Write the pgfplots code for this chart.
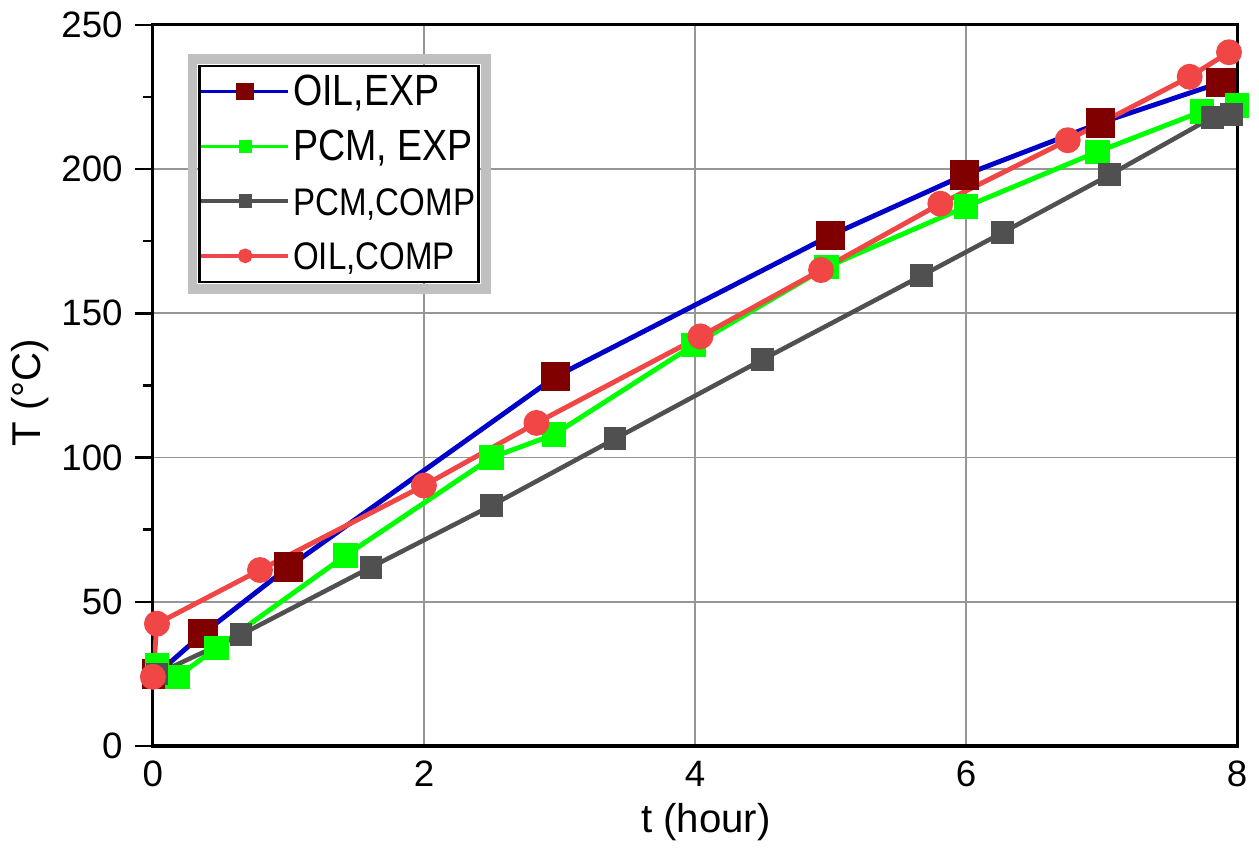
\documentclass[border=0pt]{standalone}
\usepackage{fontspec}
\setmainfont{Liberation Sans}
\newfontfamily\legfont[FakeStretch=0.86]{Liberation Sans}
\usepackage{pgfplots}
\pgfplotsset{compat=1.18}
\definecolor{oilblue}{RGB}{0,0,200}
\definecolor{oilmark}{RGB}{128,0,0}
\definecolor{pcmgreen}{RGB}{0,255,0}
\definecolor{pcmgray}{RGB}{80,80,80}
\definecolor{oilred}{RGB}{240,70,70}
\definecolor{gridgray}{RGB}{150,150,150}
\definecolor{leggray}{RGB}{192,192,192}

\begin{document}
\begin{tikzpicture}
\begin{axis}[
  name=ax,
  scale only axis,
  width=10.9cm, height=7.25cm,
  xmin=0, xmax=8, ymin=0, ymax=250,
  xtick={0,2,4,6,8}, ytick={0,50,...,250},
  minor ytick={25,75,...,225},
  xtick pos=bottom, ytick pos=left,
  grid=major, grid style={gridgray, line width=0.5pt},
  tick align=outside,
  major tick length=0.18cm, minor tick length=0.1cm,
  xtick style={draw=none},
  ytick style={black, line width=0.7pt},
  axis line style={line width=0.9pt},
  ticklabel style={font=\fontsize{10.5pt}{12pt}\selectfont},
  xticklabel style={yshift=0.15cm},
  /pgf/number format/assume math mode=true,
  xlabel={t (hour)}, ylabel={T (°C)},
  label style={font=\fontsize{11.5pt}{13pt}\selectfont},
  xlabel style={at={(axis description cs:0.51,-0.105)}, anchor=center},
  ylabel style={at={(axis description cs:-0.113,0.49)}, anchor=center},
  legend cell align=left,
  legend image code/.code={
    \draw[mark repeat=2,mark phase=2] plot coordinates {(0cm,0cm)(0.44cm,0cm)(0.87cm,0cm)};
  },
  legend style={at={(0.042,0.945)}, anchor=north west, name=leg,
    draw=black, line width=0.7pt, fill=white,
    inner xsep=0pt, inner ysep=1pt, row sep=0.1cm,
    nodes={inner sep=1pt, text height=0.33cm, text depth=0.05cm},
    font=\legfont\fontsize{12.5pt}{14pt}\selectfont},
]
\addlegendimage{oilblue, line width=1pt, mark=square*, mark size=2pt, mark options={oilmark, draw=oilmark, solid}}
\addlegendimage{pcmgreen, line width=1pt, mark=square*, mark size=1.4pt, mark options={pcmgreen}}
\addlegendimage{pcmgray, line width=1pt, mark=square*, mark size=1.4pt, mark options={pcmgray}}
\addlegendimage{oilred, line width=1pt, mark=*, mark size=1.6pt, mark options={oilred}}

% OIL, EXP
\addplot[forget plot, oilblue, line width=1.4pt, mark=square*, mark size=3.5pt, mark options={oilmark, draw=oilmark}]
  coordinates {(0.03,25) (0.37,39) (1.0,62) (2.97,128) (5.0,177) (5.99,198) (6.99,216) (7.88,230)};
% PCM, EXP
\addplot[forget plot, pcmgreen, line width=1.4pt, mark=square*, mark size=2.8pt, mark options={pcmgreen}]
  coordinates {(0.03,28) (0.18,24) (0.47,34) (1.42,66) (2.5,100) (2.96,108) (3.99,139) (4.97,166) (6.0,187) (6.97,206) (7.74,220) (8.0,222)};
% PCM, COMP
\addplot[forget plot, pcmgray, line width=1.3pt, mark=square*, mark size=2.6pt, mark options={pcmgray}]
  coordinates {(0.03,25) (0.65,38.6) (1.61,62) (2.5,83.4) (3.41,106.5) (4.5,134) (5.67,163) (6.27,178) (7.06,198) (7.82,218) (7.96,219)};
% OIL, COMP
\addplot[forget plot, oilred, line width=1.4pt, mark=*, mark size=3pt, mark options={oilred}]
  coordinates {(0.0,24) (0.03,42.4) (0.79,61) (2.0,90.3) (2.83,112) (4.04,142) (4.93,165) (5.81,188) (6.75,210) (7.65,232) (7.94,240.5)};

\legend{{OIL,EXP}, {PCM, EXP}, {\fontsize{11pt}{13pt}\selectfont PCM,COMP}, {\fontsize{11pt}{13pt}\selectfont OIL,COMP}}
\end{axis}
\draw[leggray, line width=0.1cm] ([shift={(-0.06cm,-0.06cm)}]leg.south west) rectangle ([shift={(0.06cm,0.06cm)}]leg.north east);
\path ([shift={(-1.48cm,-1.05cm)}]ax.south west) rectangle ([shift={(0.21cm,0.25cm)}]ax.north east);
\end{tikzpicture}
\end{document}
